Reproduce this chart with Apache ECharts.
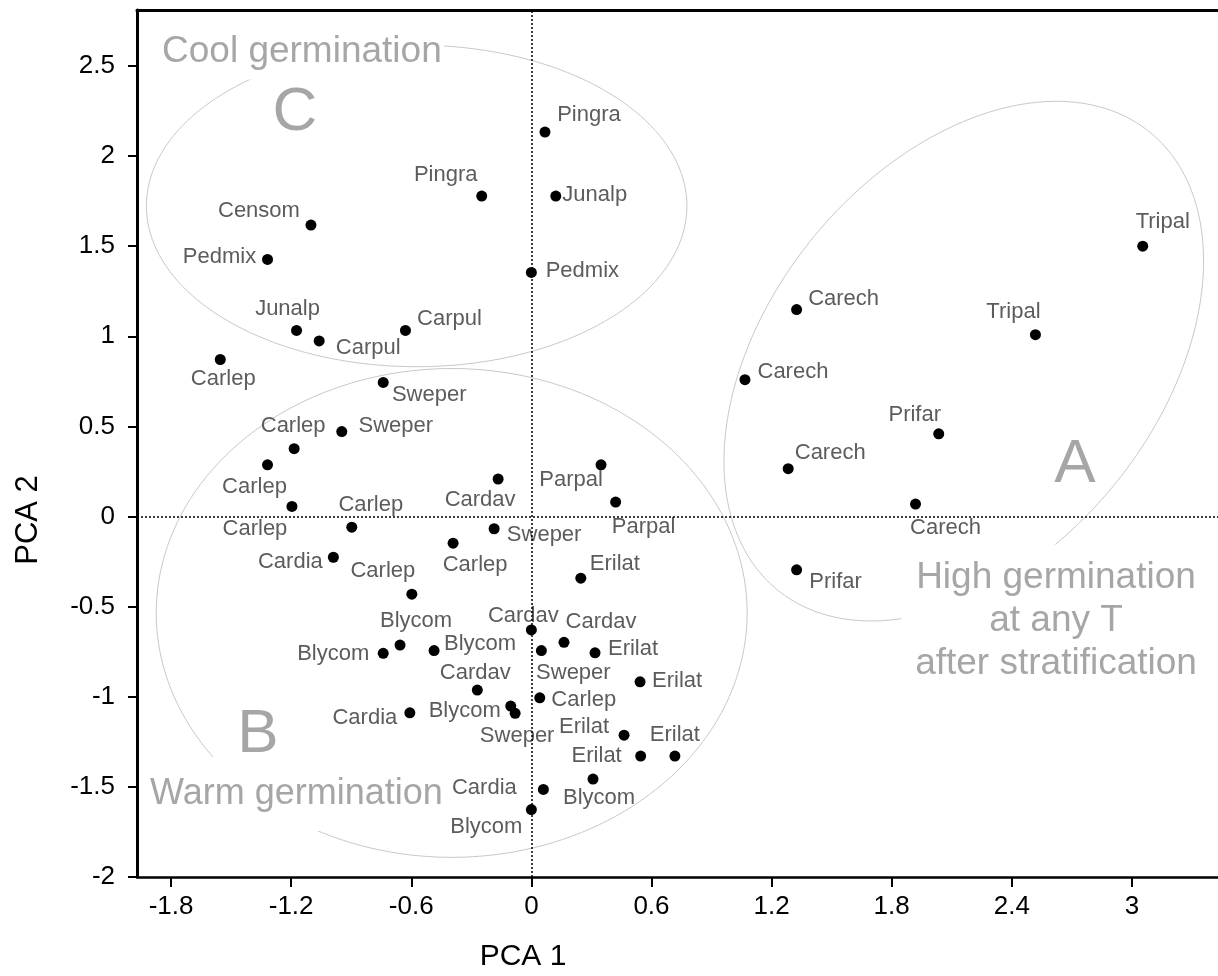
<!DOCTYPE html>
<html>
<head>
<meta charset="utf-8">
<script src="https://cdn.jsdelivr.net/npm/echarts@6/dist/echarts.min.js"></script>
<style>
  html, body { margin: 0; padding: 0; background: #fff; }
  #pcaChart { width: 1218px; height: 976px; }
</style>
</head>
<body>
<div id="pcaChart"></div>
<script>
  // species codes, PCA scores
  let names = ['Pingra', 'Pingra', 'Junalp', 'Censom', 'Pedmix', 'Pedmix', 'Junalp', 'Carpul', 'Carpul', 'Carlep',
    'Sweper', 'Sweper', 'Carlep', 'Carlep', 'Carlep', 'Carlep', 'Cardia', 'Cardav', 'Parpal', 'Parpal',
    'Sweper', 'Carlep', 'Erilat', 'Carlep', 'Blycom', 'Blycom', 'Blycom', 'Cardav', 'Sweper', 'Cardav',
    'Erilat', 'Erilat', 'Cardav', 'Cardia', 'Blycom', 'Sweper', 'Carlep', 'Erilat', 'Erilat', 'Erilat',
    'Blycom', 'Cardia', 'Blycom', 'Tripal', 'Tripal', 'Carech', 'Carech', 'Prifar', 'Carech', 'Carech',
    'Prifar'];
  let pca1 = [0.068, -0.248, 0.122, -1.101, -1.318, 0, -1.173, -1.060, -0.629, -1.554,
    -0.740, -0.947, -1.185, -1.318, -1.196, -0.897, -0.989, -0.166, 0.348, 0.421,
    -0.186, -0.391, 0.247, -0.597, -0.656, -0.740, -0.486, 0, 0.050, 0.163,
    0.318, 0.543, -0.270, -0.607, -0.103, -0.081, 0.042, 0.463, 0.546, 0.717,
    0.308, 0.060, 0, 3.054, 2.518, 1.325, 1.067, 2.035, 1.283, 1.919,
    1.325];
  let pca2 = [2.133, 1.778, 1.778, 1.617, 1.426, 1.354, 1.032, 0.974, 1.032, 0.871,
    0.744, 0.471, 0.376, 0.287, 0.056, -0.059, -0.226, 0.208, 0.287, 0.080,
    -0.068, -0.148, -0.342, -0.431, -0.713, -0.759, -0.744, -0.629, -0.744, -0.698,
    -0.756, -0.917, -0.963, -1.089, -1.052, -1.092, -1.006, -1.213, -1.329, -1.329,
    -1.457, -1.514, -1.626, 1.500, 1.009, 1.148, 0.759, 0.459, 0.265, 0.069,
    -0.296];

  let xTicks = [-1.8, -1.2, -0.6, 0, 0.6, 1.2, 1.8, 2.4, 3];
  let yTicks = [-2, -1.5, -1, -0.5, 0, 0.5, 1, 1.5, 2, 2.5];

  // group outlines: centre, and the two half-axis vectors (PCA units)
  let groupNames = ['A', 'B', 'C'];
  let groupCentre = [[2.160, 0.862], [-0.398, -0.535], [-0.573, 1.723]];
  let groupAxisU = [[1.198, 0.556], [1.476, 0], [1.350, 0]];
  let groupAxisV = [[0, 1.330], [0, 1.356], [0, 0.892]];

  // where each name sits relative to its dot (px)
  let labelShift = [[44, -17], [-36, -21], [39, -1], [-52, -14], [-48, -3], [51, -2], [-9, -22], [49, 7], [44, -12], [3, 19],
    [46, 13], [54, -6], [-1, -23], [-13, 22], [-37, 23], [19, -22], [-43, 5], [-18, 21], [-30, 15], [28, 25],
    [50, 6], [22, 22], [34, -14], [-29, -23], [16, -24], [-50, 1], [46, -7], [-8, -14], [32, 22], [37, -20],
    [38, -4], [37, -1], [-2, -17], [-45, 5], [-46, 5], [2, 23], [44, 2], [-40, -8], [-44, 0], [0, -21],
    [6, 19], [-59, -1], [-45, 17], [20, -24], [-22, -23], [47, -11], [48, -8], [-24, -19], [42, -16], [30, 24],
    [39, 12]];

  let fontFam = '"Liberation Sans", Arial, sans-serif';
  let grey = '#a6a6a6';

  let pcaChart = echarts.init(document.getElementById('pcaChart'));

  let points = [];
  for (let i = 0; i < names.length; i++) {
    points.push({
      name: names[i],
      value: [pca1[i], pca2[i]],
      label: {offset: labelShift[i]}
    });
  }

  let outlineSeries = [];
  for (let g = 0; g < groupNames.length; g++) {
    let c = groupCentre[g], u = groupAxisU[g], v = groupAxisV[g];
    let pts = [];
    for (let k = 0; k <= 180; k++) {
      let t = k / 180 * Math.PI * 2;
      pts.push([c[0] + u[0] * Math.cos(t) + v[0] * Math.sin(t),
        c[1] + u[1] * Math.cos(t) + v[1] * Math.sin(t)]);
    }
    outlineSeries.push({
      name: 'group ' + groupNames[g],
      type: 'line',
      data: pts,
      showSymbol: false,
      silent: true,
      z: 1,
      lineStyle: {color: '#c9c9c9', width: 1}
    });
  }

  let option = {
    animation: false,
    backgroundColor: '#fff',
    grid: {
      left: 137,
      right: -6,
      top: 10,
      bottom: 99,
      containLabel: false,
      outerBoundsMode: 'none'
    },
    xAxis: [{
      type: 'value',
      min: -1.97,
      max: 3.46,
      axisLine: {show: true, onZero: false, lineStyle: {color: '#000', width: 2.5}},
      axisTick: {show: true, customValues: xTicks, length: 10, lineStyle: {color: '#000', width: 2}},
      axisLabel: {customValues: xTicks, color: '#000', fontSize: 26, fontFamily: fontFam, margin: 17},
      splitLine: {show: false}
    }, {
      type: 'value',
      position: 'top',
      min: -1.97,
      max: 3.46,
      axisLine: {show: true, onZero: false, lineStyle: {color: '#000', width: 3}},
      axisTick: {show: false},
      axisLabel: {show: false},
      splitLine: {show: false}
    }],
    yAxis: {
      type: 'value',
      min: -2,
      max: 2.81,
      axisLine: {show: true, onZero: false, lineStyle: {color: '#000', width: 3}},
      axisTick: {show: true, customValues: yTicks, length: 9, lineStyle: {color: '#000', width: 2}},
      axisLabel: {customValues: yTicks, color: '#000', fontSize: 26, fontFamily: fontFam, margin: 22},
      splitLine: {show: false}
    },
    series: outlineSeries.concat([{
      name: 'samples',
      type: 'scatter',
      data: points,
      symbolSize: 11,
      z: 3,
      itemStyle: {color: '#000', opacity: 1},
      label: {
        show: true,
        formatter: '{b}',
        position: 'inside',
        align: 'center',
        verticalAlign: 'middle',
        color: '#5c5c5c',
        fontSize: 22,
        fontFamily: fontFam
      },
      markLine: {
        silent: true,
        symbol: 'none',
        label: {show: false},
        lineStyle: {color: '#000', type: [2, 2], width: 1.5},
        data: [{xAxis: 0}, {yAxis: 0}]
      }
    }]),
    graphic: [
      {type: 'text', z: 100, x: 160, y: 52, style: {text: 'Cool germination', font: '37px ' + fontFam, fill: grey, textAlign: 'left', textVerticalAlign: 'middle', backgroundColor: '#fff', padding: [4, 2, 14, 2]}},
      {type: 'text', z: 100, x: 295, y: 113, style: {text: 'C', font: '62px ' + fontFam, fill: grey, textAlign: 'center', textVerticalAlign: 'middle'}},
      {type: 'text', z: 100, x: 258, y: 735, style: {text: 'B', font: '62px ' + fontFam, fill: grey, textAlign: 'center', textVerticalAlign: 'middle'}},
      {type: 'text', z: 100, x: 148, y: 794, style: {text: 'Warm germination', font: '36px ' + fontFam, fill: grey, textAlign: 'left', textVerticalAlign: 'middle', backgroundColor: '#fff', padding: [8, 2, 30, 2]}},
      {type: 'text', z: 100, x: 1075, y: 465, style: {text: 'A', font: '62px ' + fontFam, fill: grey, textAlign: 'center', textVerticalAlign: 'middle'}},
      {type: 'text', z: 100, x: 1055, y: 621, style: {text: 'High germination\nat any T\nafter stratification', font: '37px ' + fontFam, lineHeight: 43, fill: grey, textAlign: 'center', textVerticalAlign: 'middle', backgroundColor: '#fff', padding: [14, 12, 10, 14]}},
      {type: 'text', z: 100, x: 28, y: 520, rotation: Math.PI / 2, style: {text: 'PCA 2', font: '31px ' + fontFam, fill: '#000', textAlign: 'center', textVerticalAlign: 'middle'}},
      {type: 'text', z: 100, x: 523, y: 957, style: {text: 'PCA 1', font: '30px ' + fontFam, fill: '#000', textAlign: 'center', textVerticalAlign: 'middle'}}
    ]
  };

  pcaChart.setOption(option);
</script>
</body>
</html>
